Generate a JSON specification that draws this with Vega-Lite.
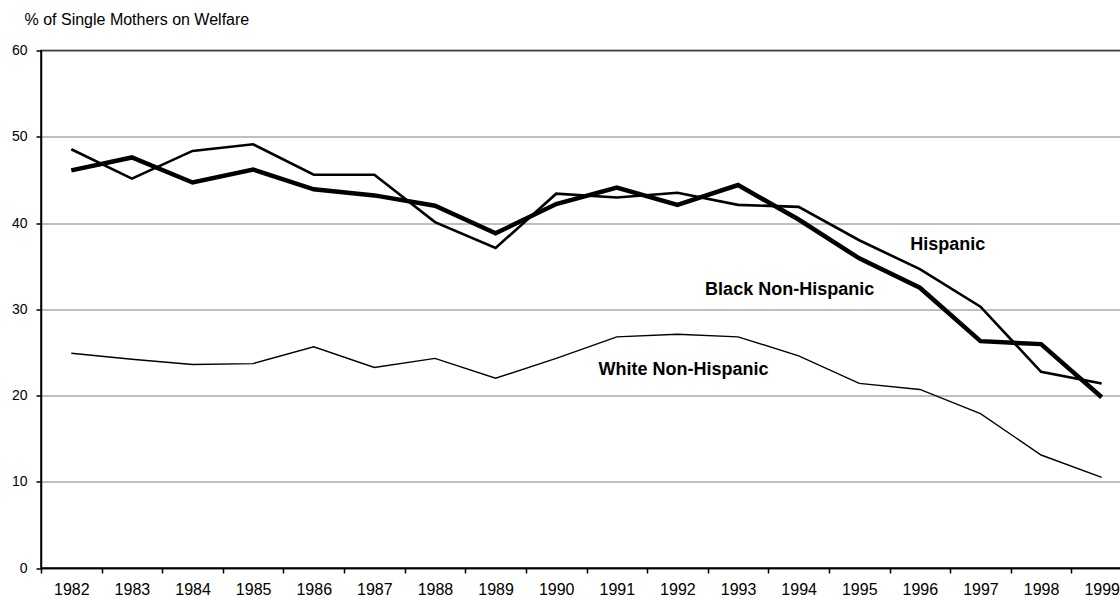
{
  "$schema": "https://vega.github.io/schema/vega-lite/v6.json",
  "width": 1091,
  "height": 517.5,
  "autosize": {"type": "none"},
  "padding": {"left": 41, "top": 50.5, "right": 0, "bottom": 31},
  "background": "white",
  "config": {
    "view": {"stroke": "black", "strokeWidth": 1.5},
    "font": "Liberation Sans",
    "axis": {"labelFont": "Liberation Sans", "titleFont": "Liberation Sans", "labelColor": "black", "titleColor": "black"}
  },
  "datasets": {
    "series": [
      {"year": "1982", "group": "Hispanic", "value": 48.55},
      {"year": "1983", "group": "Hispanic", "value": 45.15},
      {"year": "1984", "group": "Hispanic", "value": 48.36},
      {"year": "1985", "group": "Hispanic", "value": 49.13},
      {"year": "1986", "group": "Hispanic", "value": 45.6},
      {"year": "1987", "group": "Hispanic", "value": 45.6},
      {"year": "1988", "group": "Hispanic", "value": 40.1},
      {"year": "1989", "group": "Hispanic", "value": 37.1},
      {"year": "1990", "group": "Hispanic", "value": 43.4},
      {"year": "1991", "group": "Hispanic", "value": 42.95},
      {"year": "1992", "group": "Hispanic", "value": 43.5},
      {"year": "1993", "group": "Hispanic", "value": 42.1},
      {"year": "1994", "group": "Hispanic", "value": 41.87},
      {"year": "1995", "group": "Hispanic", "value": 38.0},
      {"year": "1996", "group": "Hispanic", "value": 34.65},
      {"year": "1997", "group": "Hispanic", "value": 30.3},
      {"year": "1998", "group": "Hispanic", "value": 22.75},
      {"year": "1999", "group": "Hispanic", "value": 21.4},
      {"year": "1982", "group": "Black Non-Hispanic", "value": 46.1},
      {"year": "1983", "group": "Black Non-Hispanic", "value": 47.6},
      {"year": "1984", "group": "Black Non-Hispanic", "value": 44.7},
      {"year": "1985", "group": "Black Non-Hispanic", "value": 46.2},
      {"year": "1986", "group": "Black Non-Hispanic", "value": 43.9},
      {"year": "1987", "group": "Black Non-Hispanic", "value": 43.2},
      {"year": "1988", "group": "Black Non-Hispanic", "value": 42.0},
      {"year": "1989", "group": "Black Non-Hispanic", "value": 38.8},
      {"year": "1990", "group": "Black Non-Hispanic", "value": 42.2},
      {"year": "1991", "group": "Black Non-Hispanic", "value": 44.1},
      {"year": "1992", "group": "Black Non-Hispanic", "value": 42.1},
      {"year": "1993", "group": "Black Non-Hispanic", "value": 44.4},
      {"year": "1994", "group": "Black Non-Hispanic", "value": 40.4},
      {"year": "1995", "group": "Black Non-Hispanic", "value": 35.9},
      {"year": "1996", "group": "Black Non-Hispanic", "value": 32.5},
      {"year": "1997", "group": "Black Non-Hispanic", "value": 26.3},
      {"year": "1998", "group": "Black Non-Hispanic", "value": 25.96},
      {"year": "1999", "group": "Black Non-Hispanic", "value": 19.8},
      {"year": "1982", "group": "White Non-Hispanic", "value": 24.9},
      {"year": "1983", "group": "White Non-Hispanic", "value": 24.2},
      {"year": "1984", "group": "White Non-Hispanic", "value": 23.6},
      {"year": "1985", "group": "White Non-Hispanic", "value": 23.7},
      {"year": "1986", "group": "White Non-Hispanic", "value": 25.65},
      {"year": "1987", "group": "White Non-Hispanic", "value": 23.25},
      {"year": "1988", "group": "White Non-Hispanic", "value": 24.3},
      {"year": "1989", "group": "White Non-Hispanic", "value": 22.0},
      {"year": "1990", "group": "White Non-Hispanic", "value": 24.3},
      {"year": "1991", "group": "White Non-Hispanic", "value": 26.8},
      {"year": "1992", "group": "White Non-Hispanic", "value": 27.1},
      {"year": "1993", "group": "White Non-Hispanic", "value": 26.8},
      {"year": "1994", "group": "White Non-Hispanic", "value": 24.6},
      {"year": "1995", "group": "White Non-Hispanic", "value": 21.4},
      {"year": "1996", "group": "White Non-Hispanic", "value": 20.7},
      {"year": "1997", "group": "White Non-Hispanic", "value": 17.9},
      {"year": "1998", "group": "White Non-Hispanic", "value": 13.1},
      {"year": "1999", "group": "White Non-Hispanic", "value": 10.5}
    ],
    "labels": [
      {"label": "Hispanic", "year": "1996", "value": 37.5},
      {"label": "Black Non-Hispanic", "year": "1994", "value": 32.2},
      {"label": "White Non-Hispanic", "year": "1992", "value": 22.9}
    ]
  },
  "encoding": {
    "x": {
      "field": "year",
      "type": "ordinal",
      "bandPosition": 0.5,
      "scale": {"type": "band", "paddingInner": 0, "paddingOuter": 0},
      "axis": {
        "title": null,
        "labelAngle": 0,
        "labelFontSize": 16,
        "labelPadding": 8,
        "tickBand": "extent",
        "tickSize": 5,
        "tickColor": "black",
        "tickWidth": 1.5,
        "domainColor": "black",
        "domainWidth": 1.5,
        "grid": false
      }
    },
    "y": {
      "field": "value",
      "type": "quantitative",
      "scale": {"domain": [0, 60], "nice": false},
      "axis": {
        "values": [0, 10, 20, 30, 40, 50, 60],
        "title": "% of Single Mothers on Welfare",
        "titleAngle": 0,
        "titleAlign": "left",
        "titleBaseline": "alphabetic",
        "titleX": -17,
        "titleY": -26,
        "titleFontSize": 16,
        "titleFontWeight": "normal",
        "labelFontSize": 14,
        "labelPadding": 9,
        "tickSize": 5,
        "tickColor": "black",
        "tickWidth": 1.5,
        "domainColor": "black",
        "domainWidth": 1.5,
        "grid": true,
        "gridColor": "#808080",
        "gridWidth": 1.2
      }
    }
  },
  "layer": [
    {
      "data": {"name": "series"},
      "mark": {"type": "line", "color": "black", "strokeJoin": "miter"},
      "encoding": {
        "detail": {"field": "group", "type": "nominal"},
        "strokeWidth": {
          "field": "group",
          "type": "nominal",
          "scale": {"type": "ordinal", "domain": ["Hispanic", "Black Non-Hispanic", "White Non-Hispanic"], "range": [2.6, 4.5, 1.4]},
          "legend": null
        }
      }
    },
    {
      "data": {"name": "labels"},
      "transform": [{"filter": "datum.label == 'Hispanic'"}],
      "mark": {"type": "text", "fontWeight": "bold", "fontSize": 18, "dx": 28, "align": "center", "baseline": "middle", "color": "black"},
      "encoding": {"text": {"field": "label"}}
    },
    {
      "data": {"name": "labels"},
      "transform": [{"filter": "datum.label == 'Black Non-Hispanic'"}],
      "mark": {"type": "text", "fontWeight": "bold", "fontSize": 18, "dx": -9, "align": "center", "baseline": "middle", "color": "black"},
      "encoding": {"text": {"field": "label"}}
    },
    {
      "data": {"name": "labels"},
      "transform": [{"filter": "datum.label == 'White Non-Hispanic'"}],
      "mark": {"type": "text", "fontWeight": "bold", "fontSize": 18, "dx": 6, "align": "center", "baseline": "middle", "color": "black"},
      "encoding": {"text": {"field": "label"}}
    }
  ]
}
